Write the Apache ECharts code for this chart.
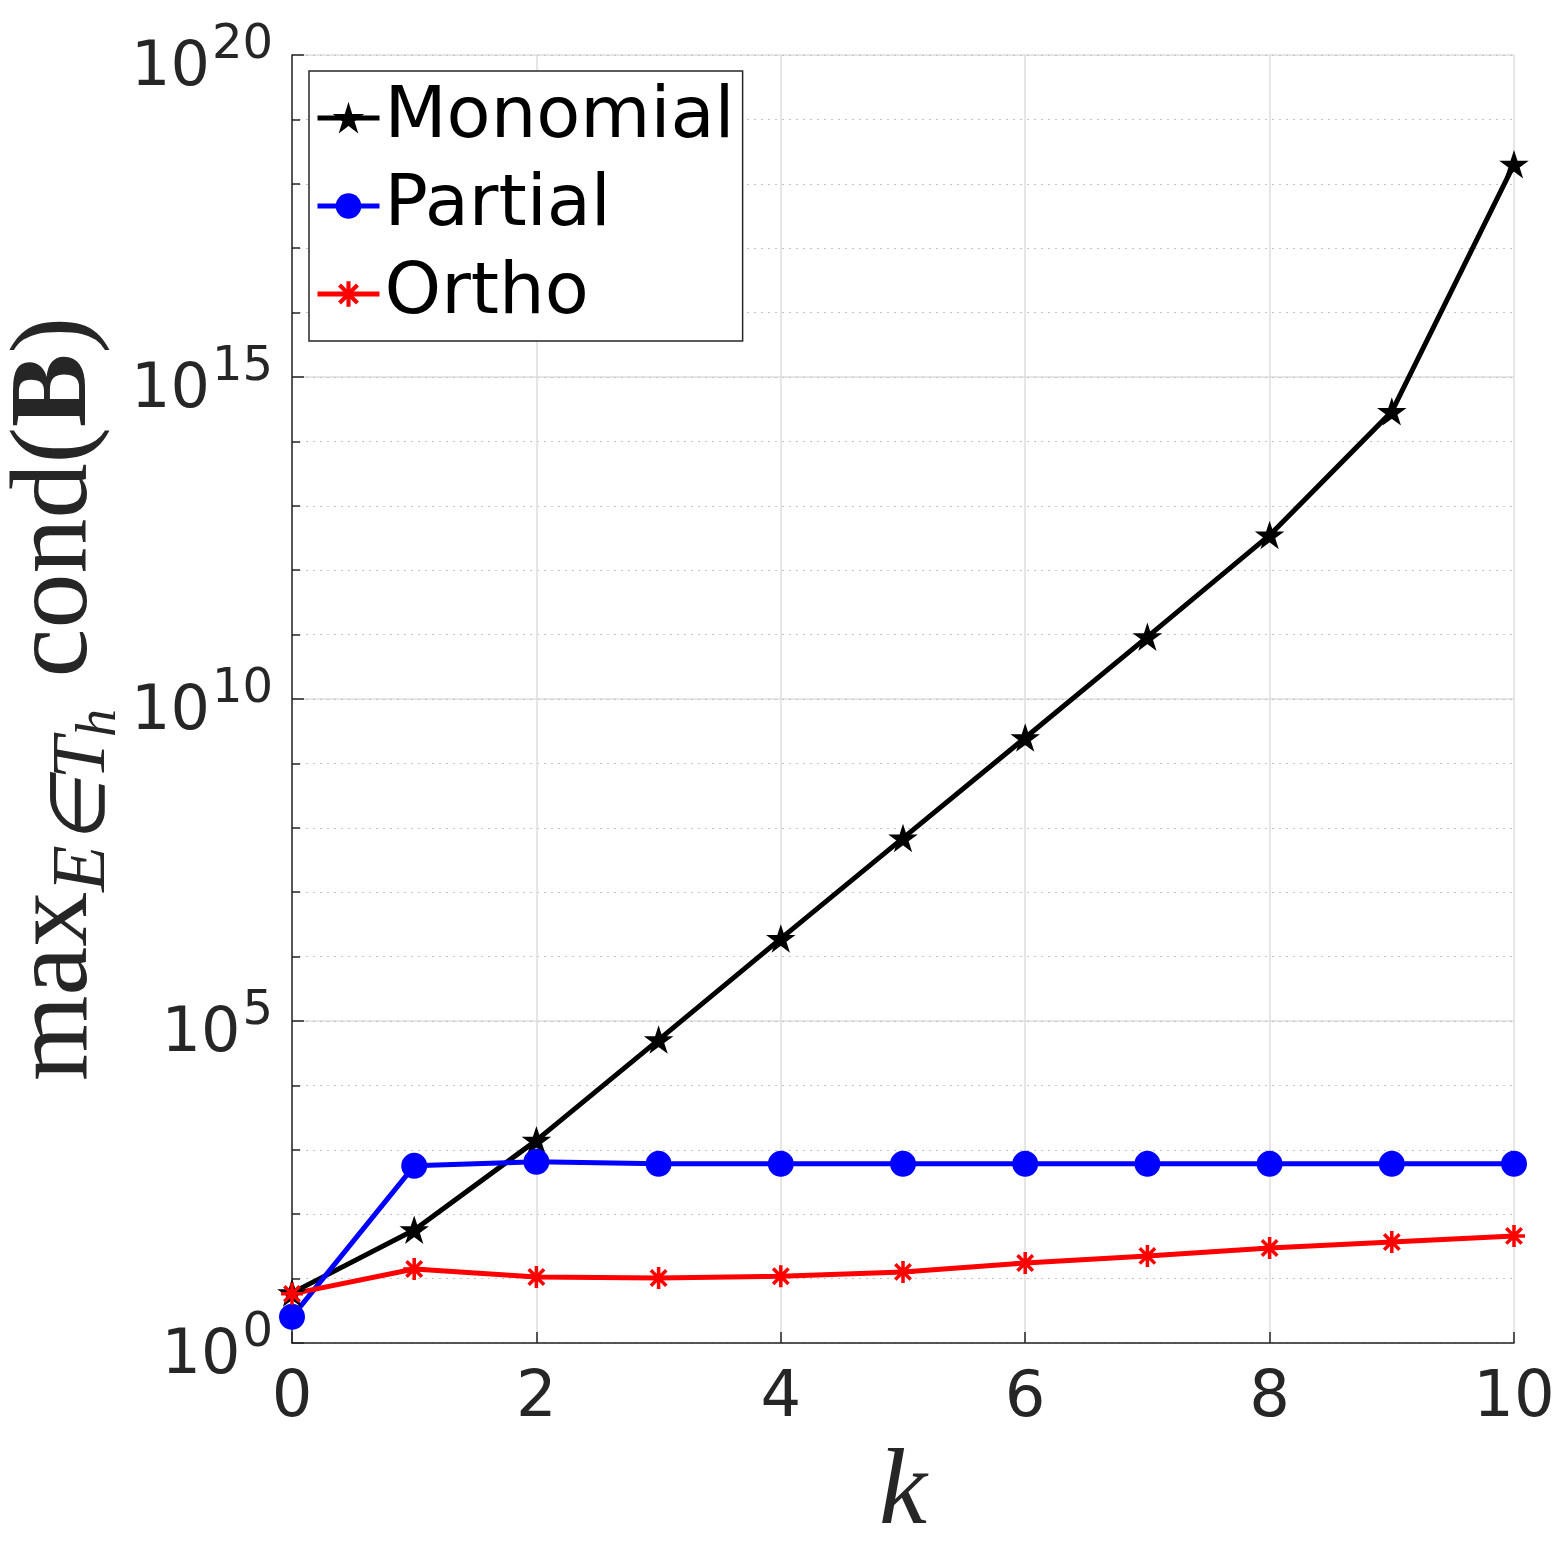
<!DOCTYPE html>
<html>
<head>
<meta charset="utf-8">
<script src="https://cdn.jsdelivr.net/npm/echarts@6/dist/echarts.min.js"></script>
<style>
  html, body { margin: 0; padding: 0; background: #fff; }
  #chart { width: 1563px; height: 1563px; }
</style>
</head>
<body>
<div id="chart"></div>
<script>
// values
const kValues = [0, 1, 2, 3, 4, 5, 6, 7, 8, 9, 10]
const monomial = [6.0, 57, 1.4e3, 5.1e4, 1.9e6, 6.9e7, 2.5e9, 9.2e10, 3.5e12, 2.9e14, 2.0e18]
const partial = [2.55, 563, 650, 605, 605, 605, 605, 605, 605, 605, 605]
const ortho = [5.8, 14.1, 10.6, 10.2, 10.9, 12.7, 17.5, 22.5, 29.9, 37, 46]
const seriesNames = ['Monomial', 'Partial', 'Ortho']

// marker shapes (MATLAB 'p' and '*')
const starPath = 'path://M10 0 L12.245 6.91 L19.511 6.91 L13.633 11.18 L15.878 18.09 L10 13.82 L4.122 18.09 L6.367 11.18 L0.489 6.91 L7.755 6.91 Z'
const asteriskPath = 'path://M8.4 0 L11.6 0 L11.6 20 L8.4 20 Z M0 8.4 L20 8.4 L20 11.6 L0 11.6 Z ' +
  'M4.13 1.87 L18.13 15.87 L15.87 18.13 L1.87 4.13 Z M15.87 1.87 L18.13 4.13 L4.13 18.13 L1.87 15.87 Z'

const pairs = (ys) => kValues.map((k, i) => [k, ys[i]])

const axisColor = '#262626'
const chart = echarts.init(document.getElementById('chart'))

function lineSeries(name, ys, color, symbol, size, border) {
  return {
    name: name,
    type: 'line',
    data: pairs(ys),
    yAxisIndex: 0,
    symbol: symbol,
    symbolSize: size,
    showAllSymbol: true,
    lineStyle: { color: color, width: 5 },
    itemStyle: { color: color, borderColor: color, borderWidth: border },
    emphasis: { disabled: true },
    animation: false,
  }
}

const option = {
  backgroundColor: '#fff',
  animation: false,
  grid: { left: 292, right: 49, top: 55, bottom: 220, containLabel: false, outerBoundsMode: 'none' },
  legend: {
    orient: 'vertical',
    left: 309,
    top: 71,
    padding: [11, 8, 11, 6],
    itemWidth: 62,
    itemHeight: 32,
    itemGap: 16,
    borderColor: axisColor,
    borderWidth: 1.5,
    backgroundColor: '#fff',
    data: seriesNames,
    lineStyle: { width: 5 },
    textStyle: { fontFamily: 'DejaVu Sans', fontSize: 72, color: '#000' },
  },
  xAxis: {
    type: 'value',
    min: 0,
    max: 10,
    interval: 2,
    name: 'k',
    nameLocation: 'middle',
    nameGap: 98,
    nameMoveOverlap: false,
    nameTextStyle: { fontFamily: 'Liberation Serif', fontStyle: 'italic', fontSize: 108, color: axisColor },
    axisLine: { lineStyle: { color: axisColor, width: 1.5 } },
    axisTick: { inside: true, length: 11, lineStyle: { color: axisColor, width: 1.5 } },
    axisLabel: { margin: 24, fontFamily: 'DejaVu Sans', fontSize: 64, color: axisColor },
    splitLine: { show: true, lineStyle: { color: '#dedede', width: 1.5 } },
  },
  yAxis: [
    {
      type: 'log',
      logBase: 100000,
      min: 1,
      max: 1e20,
      position: 'left',
      name: '{r|max}{s|E\u2208T}{ss|h}{r| cond(}{bf|B}{r|)}',
      nameLocation: 'middle',
      nameRotate: 90,
      nameGap: 164,
      nameMoveOverlap: false,
      nameTextStyle: {
        color: axisColor,
        fontFamily: 'Liberation Serif',
        fontSize: 110,
        rich: {
          r: { fontFamily: 'Liberation Serif', fontSize: 110, color: axisColor, verticalAlign: 'top' },
          bf: { fontFamily: 'Liberation Serif', fontWeight: 'bold', fontSize: 110, color: axisColor, verticalAlign: 'top' },
          s: { fontFamily: 'Liberation Serif', fontStyle: 'italic', fontSize: 76, color: axisColor, verticalAlign: 'top', padding: [44, 0, 0, 0] },
          ss: { fontFamily: 'Liberation Serif', fontStyle: 'italic', fontSize: 56, color: axisColor, verticalAlign: 'top', padding: [70, 4, 0, 0] },
        },
      },
      axisLine: { show: true, lineStyle: { color: axisColor, width: 1.5 } },
      axisTick: { show: true, inside: true, length: 12, lineStyle: { color: axisColor, width: 1.5 } },
      axisLabel: {
        margin: 19,
        padding: [12, 0, 0, 0],
        formatter: function (v) {
          const e = Math.round(Math.log10(v))
          return '{b|10}{e|' + e + '}'
        },
        rich: {
          b: { fontFamily: 'DejaVu Sans', fontSize: 62, color: axisColor, verticalAlign: 'bottom' },
          e: { fontFamily: 'DejaVu Sans', fontSize: 48, color: axisColor, verticalAlign: 'bottom', padding: [0, 0, 30, 2] },
        },
      },
      splitLine: { show: true, lineStyle: { color: '#dedede', width: 1.5 } },
    },
    {
      // decade lines: exponent scale laid over the same grid
      type: 'value',
      min: 0,
      max: 20,
      interval: 1,
      position: 'left',
      axisLine: { show: false },
      axisTick: { show: true, inside: true, length: 8, lineStyle: { color: axisColor, width: 1.5 } },
      axisLabel: { show: false },
      splitLine: { show: true, lineStyle: { color: '#c4c4c4', width: 1.2, type: [2, 5] } },
    },
  ],
  series: [
    lineSeries(seriesNames[0], monomial, '#000000', starPath, [25, 24], 1.5),
    lineSeries(seriesNames[1], partial, '#0000ff', 'circle', 26, 0),
    lineSeries(seriesNames[2], ortho, '#ff0000', asteriskPath, 22, 0),
  ],
}

chart.setOption(option)
</script>
</body>
</html>
